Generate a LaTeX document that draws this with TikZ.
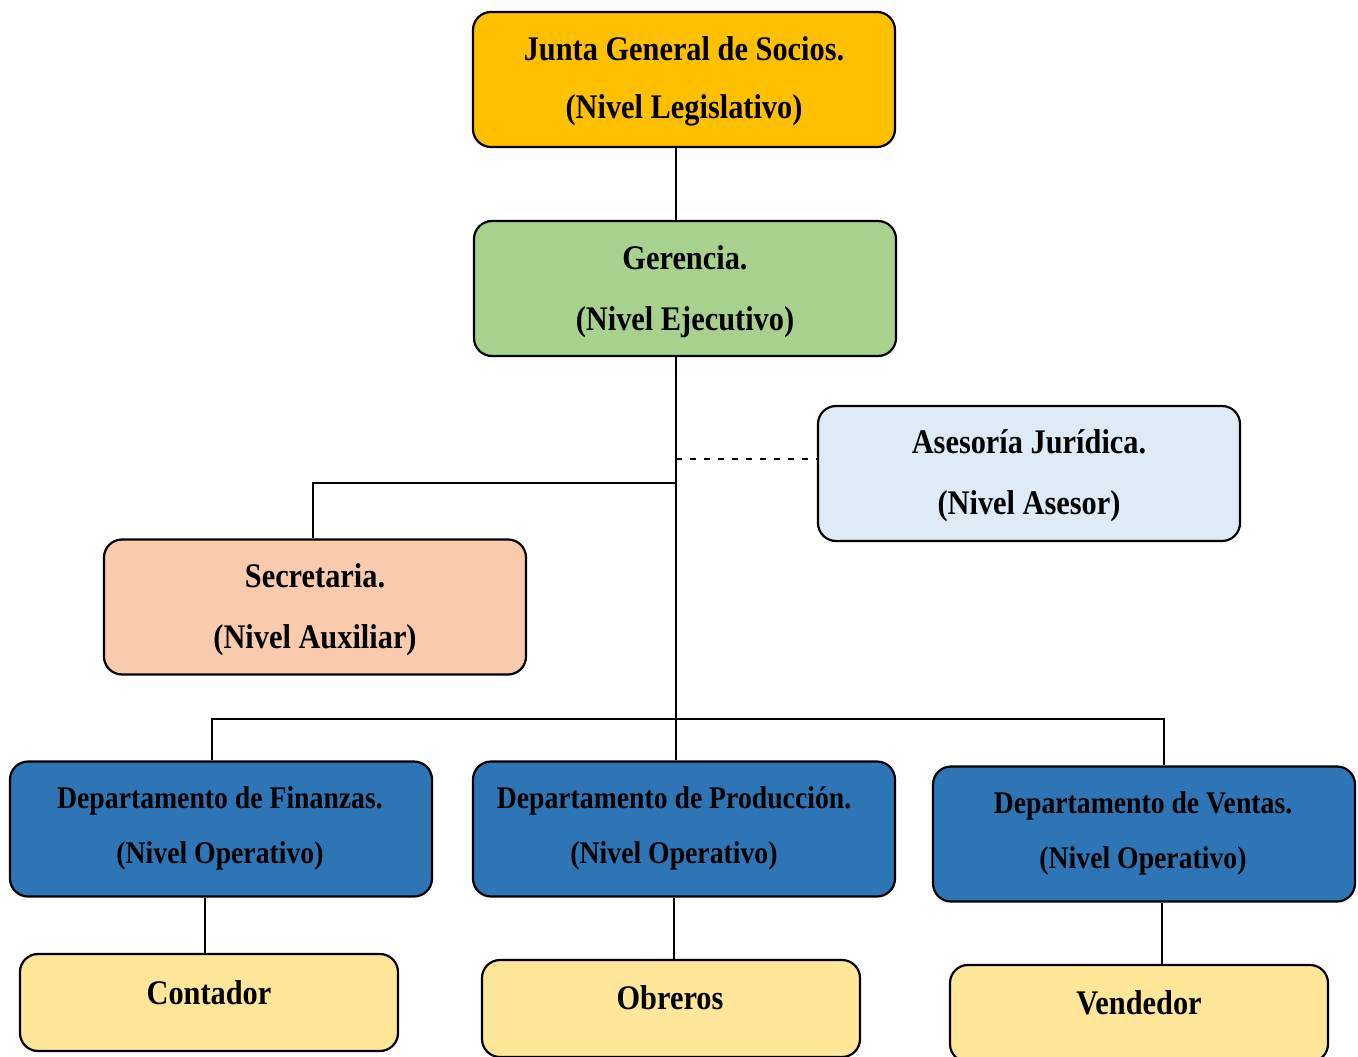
\documentclass[tikz,border=0pt]{standalone}
\usepackage{fontspec}
\setmainfont{Liberation Serif}
\newfontfamily\narrowserif[FakeStretch=0.88]{Liberation Serif}
\definecolor{gold}{HTML}{FFC000}
\definecolor{leaf}{HTML}{A9D18E}
\definecolor{sky}{HTML}{DEEBF7}
\definecolor{peach}{HTML}{F8CBAD}
\definecolor{deptblue}{HTML}{2E75B6}
\definecolor{cream}{HTML}{FFE699}
\begin{document}
\begin{tikzpicture}[x=1pt,y=-1pt,
  box/.style={draw=black, line width=2.2pt, rounded corners=18pt,
    minimum width=422pt, minimum height=135pt, inner sep=0pt},
  smallbox/.style={box, minimum width=378pt, minimum height=97pt},
  lbl/.style={font=\narrowserif\bfseries\fontsize{34.5}{#1}\selectfont, align=center, inner sep=0pt},
  deptlbl/.style={font=\narrowserif\bfseries\fontsize{31.5}{#1}\selectfont, align=center, inner sep=0pt},
  link/.style={line width=2pt}]
\useasboundingbox (0,0) rectangle (1358,1057);

% boxes
\node[box, fill=gold]     (junta)  at (684,79.5)  {};
\node[box, fill=leaf]     (ger)    at (685,288.5) {};
\node[box, fill=sky]      (ases)   at (1029,473.5) {};
\node[box, fill=peach]    (secre)  at (315,607)   {};
\node[box, fill=deptblue] (fin)    at (221,829)   {};
\node[box, fill=deptblue] (prod)   at (684,829)   {};
\node[box, fill=deptblue] (vent)   at (1144,834)  {};
\node[smallbox, fill=cream] (cont) at (209,1002.5) {};
\node[smallbox, fill=cream] (obr)  at (671,1008.5) {};
\node[smallbox, fill=cream] (vend) at (1139,1013.5) {};

% labels
\node[lbl=58] (tjunta) at (684,81)  {Junta General de Socios.\\(Nivel Legislativo)};
\node[lbl=61] (tger)   at (685,292) {Gerencia.\\(Nivel Ejecutivo)};
\node[lbl=61] (tases)  at (1029,476) {Asesoría Jurídica.\\(Nivel Asesor)};
\node[lbl=61] (tsecre) at (315,610) {Secretaria.\\(Nivel Auxiliar)};
\node[deptlbl=55] (tfin)   at (220,828) {Departamento de Finanzas.\\(Nivel Operativo)};
\node[deptlbl=55] (tprod)  at (674,828) {Departamento de Producción.\\(Nivel Operativo)};
\node[deptlbl=55] (tvent)  at (1143,833) {Departamento de Ventas.\\(Nivel Operativo)};
\node[lbl=30] (tcont)  at (209,993)  {Contador};
\node[lbl=30] (tobr)   at (670,998)  {Obreros};
\node[lbl=30] (tvend)  at (1139,1003) {Vendedor};

% connectors
\coordinate (spine) at (676,0);
\draw[link] (spine |- junta.south) -- (spine |- ger.north);
\draw[link] (spine |- ger.south) -- (spine |- prod.north);
\coordinate (adv) at (676,459);
\draw[link, dash pattern=on 6pt off 8pt] (adv) -- (adv -| ases.west);
\coordinate (aux) at (676,483);
\coordinate (auxL) at (313,483);
\draw[link] (aux) -- (auxL) -- (auxL |- secre.north);
\coordinate (busL) at (212,719);
\coordinate (busR) at (1164,719);
\draw[link] (busL |- fin.north) -- (busL) -- (busR) -- (busR |- vent.north);
\coordinate (dropF) at (205,0);
\coordinate (dropP) at (674,0);
\coordinate (dropV) at (1162,0);
\draw[link] (dropF |- fin.south) -- (dropF |- cont.north);
\draw[link] (dropP |- prod.south) -- (dropP |- obr.north);
\draw[link] (dropV |- vent.south) -- (dropV |- vend.north);
\end{tikzpicture}
\end{document}
